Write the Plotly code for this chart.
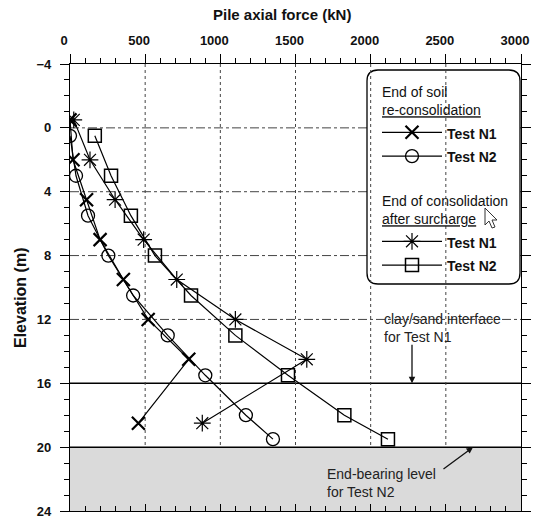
import plotly.graph_objects as go

# ---------------- data ----------------
elev_n1_recon = [-0.5, 2, 4.5, 7, 9.5, 12, 14.5, 18.5]
force_n1_recon = [0, 20, 110, 200, 355, 520, 790, 455]

elev_n2_recon = [0.5, 3, 5.5, 8, 10.5, 13, 15.5, 18, 19.5]
force_n2_recon = [0, 40, 120, 255, 420, 650, 900, 1170, 1350]

elev_n1_surch = [-0.5, 2, 4.5, 7, 9.5, 12, 14.5, 18.5]
force_n1_surch = [25, 133, 300, 490, 710, 1100, 1575, 880]

elev_n2_surch = [0.5, 3, 5.5, 8, 10.5, 13, 15.5, 18, 19.5]
force_n2_surch = [165, 273, 405, 565, 805, 1100, 1450, 1825, 2115]

x_ticks = [0, 500, 1000, 1500, 2000, 2500, 3000]
y_ticks = [-4, 0, 4, 8, 12, 16, 20, 24]
grid_elevs = [0, 4, 8, 12]
interface_elev = 16
endbearing_elev = 20
bottom_elev = 24

group1_title = "End of soil<br><u>re-consolidation</u>"
group2_title = "End of consolidation<br><u>after surcharge</u>"
name_n1 = "Test N1"
name_n2 = "Test N2"

# ---------------- layout geometry ----------------
W, H = 535, 522
ML, MR, MT, MB = 70, 14, 64, 11
PW, PH = W - ML - MR, H - MT - MB
FONT = "Liberation Sans, Arial, sans-serif"


def px(xp):
    return (xp - ML) / PW


def py(yp):
    return (H - MB - yp) / PH


def lbl(t):
    return f'<span style="font-size:14px">{t}</span>'


fig = go.Figure()

line_style = dict(color="black", width=1.2)
gt_font = dict(size=14, weight="normal", family=FONT, color="#111")
fig.add_trace(go.Scatter(
    x=force_n1_recon, y=elev_n1_recon, mode="lines+markers", name=lbl(name_n1),
    legend="legend", legendgroup="g1", legendgrouptitle=dict(text=group1_title, font=gt_font),
    line=line_style,
    marker=dict(symbol="x-thin-open", size=13, line=dict(color="black", width=2.2), color="black")))
fig.add_trace(go.Scatter(
    x=force_n2_recon, y=elev_n2_recon, mode="lines+markers", name=lbl(name_n2),
    legend="legend", legendgroup="g1",
    line=line_style,
    marker=dict(symbol="circle-open", size=13, line=dict(color="black", width=1.3), color="black")))
fig.add_trace(go.Scatter(
    x=force_n1_surch, y=elev_n1_surch, mode="lines+markers", name=lbl(name_n1),
    legend="legend2", legendgroup="g2", legendgrouptitle=dict(text=group2_title, font=gt_font),
    line=line_style,
    marker=dict(symbol="asterisk-open", size=14, line=dict(color="black", width=1.2), color="black")))
fig.add_trace(go.Scatter(
    x=force_n2_surch, y=elev_n2_surch, mode="lines+markers", name=lbl(name_n2),
    legend="legend2", legendgroup="g2",
    line=line_style,
    marker=dict(symbol="square-open", size=13, line=dict(color="black", width=1.5), color="black")))

# invisible trace so the bottom tick axis exists
fig.add_trace(go.Scatter(x=[x_ticks[0]], y=[y_ticks[0]], xaxis="x2", mode="markers",
                         marker=dict(opacity=0), showlegend=False, hoverinfo="skip"))

shapes = []
grid_col = "#444"
# vertical dotted grid (stops at the shaded stratum)
for xv in x_ticks[1:-1]:
    shapes.append(dict(type="line", xref="x", yref="y", x0=xv, x1=xv, y0=y_ticks[0], y1=endbearing_elev,
                       line=dict(color=grid_col, width=1, dash="dot"), layer="below"))
# horizontal dash-dot grid
for e in grid_elevs:
    shapes.append(dict(type="line", xref="x domain", yref="y", x0=0, x1=1, y0=e, y1=e,
                       line=dict(color=grid_col, width=1, dash="dashdot"), layer="below"))
# shaded end-bearing stratum
shapes.append(dict(type="rect", xref="x domain", yref="y", x0=0, x1=1, y0=endbearing_elev, y1=bottom_elev,
                   fillcolor="#dadada", line=dict(width=0), layer="below"))
# solid lines
for e in [interface_elev, endbearing_elev]:
    shapes.append(dict(type="line", xref="x domain", yref="y", x0=0, x1=1, y0=e, y1=e,
                       line=dict(color="black", width=1.5), layer="below"))

# rounded legend box
bx0, bx1, by0, by1, r = 367, 520, 70, 284, 11
rx, ry = r / PW, r / PH
X0, X1, Y0, Y1 = px(bx0), px(bx1), py(by0), py(by1)
path = (f"M{X0+rx},{Y0} L{X1-rx},{Y0} Q{X1},{Y0} {X1},{Y0-ry} "
        f"L{X1},{Y1+ry} Q{X1},{Y1} {X1-rx},{Y1} "
        f"L{X0+rx},{Y1} Q{X0},{Y1} {X0},{Y1+ry} "
        f"L{X0},{Y0-ry} Q{X0},{Y0} {X0+rx},{Y0} Z")
shapes.append(dict(type="path", xref="paper", yref="paper", path=path,
                   fillcolor="white", line=dict(color="black", width=1.3), layer="below"))

# mouse cursor artefact
cur = [(0, 0), (0, 17), (4, 13), (7, 20), (10, 19), (7, 12), (12, 12)]
cx, cy = 485, 208
cpath = "M" + " L".join(f"{px(cx + a)},{py(cy + b)}" for a, b in cur) + " Z"
shapes.append(dict(type="path", xref="paper", yref="paper", path=cpath,
                   fillcolor="white", line=dict(color="#333", width=1), layer="above"))

annotations = [
    dict(text="<b>Pile axial force (kN)</b>", xref="paper", yref="paper", x=px(282), y=py(15),
         showarrow=False, font=dict(size=15, family=FONT, color="#111"), xanchor="center", yanchor="middle"),
    dict(text="<b>Elevation (m)</b>", xref="paper", yref="paper", x=px(20), y=py(298),
         showarrow=False, textangle=-90, font=dict(size=16, family=FONT, color="#111"),
         xanchor="center", yanchor="middle"),
    dict(text="clay/sand interface<br>for Test N1", xref="paper", yref="paper", x=px(382), y=py(328),
         showarrow=False, align="left", xanchor="left", yanchor="middle",
         font=dict(size=14, family=FONT, color="#222")),
    dict(text="", x=(412 - ML) / PW * x_ticks[-1], y=interface_elev, xref="x", yref="y",
         showarrow=True, ax=0, ay=-40, arrowhead=2, arrowsize=1, arrowwidth=1.3, arrowcolor="#111"),
    dict(text="End-bearing level<br>for Test N2", xref="paper", yref="paper", x=px(325), y=py(483),
         showarrow=False, align="left", xanchor="left", yanchor="middle",
         font=dict(size=14, family=FONT, color="#222")),
    dict(text="", x=(473 - ML) / PW * x_ticks[-1], y=endbearing_elev, xref="x", yref="y",
         showarrow=True, ax=-31, ay=23, arrowhead=2, arrowsize=1, arrowwidth=1.3, arrowcolor="#111"),
]

leg_common = dict(xanchor="left", yanchor="top", bgcolor="rgba(0,0,0,0)", borderwidth=0, itemwidth=60,
                  font=dict(size=16, weight="bold", family=FONT, color="#111"),
                  traceorder="grouped", itemclick=False, itemdoubleclick=False)

fig.update_layout(
    width=W, height=H, margin=dict(l=ML, r=MR, t=MT, b=MB, autoexpand=False),
    plot_bgcolor="white", paper_bgcolor="white",
    font=dict(family=FONT, color="#111"),
    shapes=shapes, annotations=annotations,
    showlegend=True,
    legend=dict(x=px(377), y=py(76), **leg_common),
    legend2=dict(x=px(377), y=py(185), **leg_common),
    xaxis=dict(side="top", range=[x_ticks[0], x_ticks[-1]], tickvals=x_ticks,
               ticks="outside", ticklen=9, tickwidth=1.2, tickcolor="black",
               showline=True, linecolor="black", linewidth=1.3, mirror=True,
               showgrid=False, zeroline=False, automargin=False,
               minor=dict(dtick=100, ticks="outside", ticklen=5, tickcolor="black", tickwidth=1, showgrid=False),
               tickfont=dict(size=13, weight="bold", family=FONT, color="#111"), ticklabelstandoff=4,
               ticklabelshift=-6),
    xaxis2=dict(overlaying="x", matches="x", side="bottom", anchor="y", automargin=False,
                range=[x_ticks[0], x_ticks[-1]], tickvals=x_ticks,
                ticks="inside", ticklen=7, tickwidth=1.2, tickcolor="black",
                showticklabels=False, showgrid=False, showline=False, zeroline=False,
                minor=dict(dtick=100, ticks="inside", ticklen=5, tickcolor="black", tickwidth=1, showgrid=False)),
    yaxis=dict(range=[y_ticks[-1], y_ticks[0]], tickvals=y_ticks, automargin=False,
               ticks="outside", ticklen=9, tickwidth=1.2, tickcolor="black",
               showline=True, linecolor="black", linewidth=1.3, mirror="ticks",
               showgrid=False, zeroline=False,
               minor=dict(dtick=1, ticks="outside", ticklen=5, tickcolor="black", tickwidth=1, showgrid=False),
               tickfont=dict(size=13, weight="bold", family=FONT, color="#111"), ticklabelstandoff=6),
)

fig.write_html("out.html")
